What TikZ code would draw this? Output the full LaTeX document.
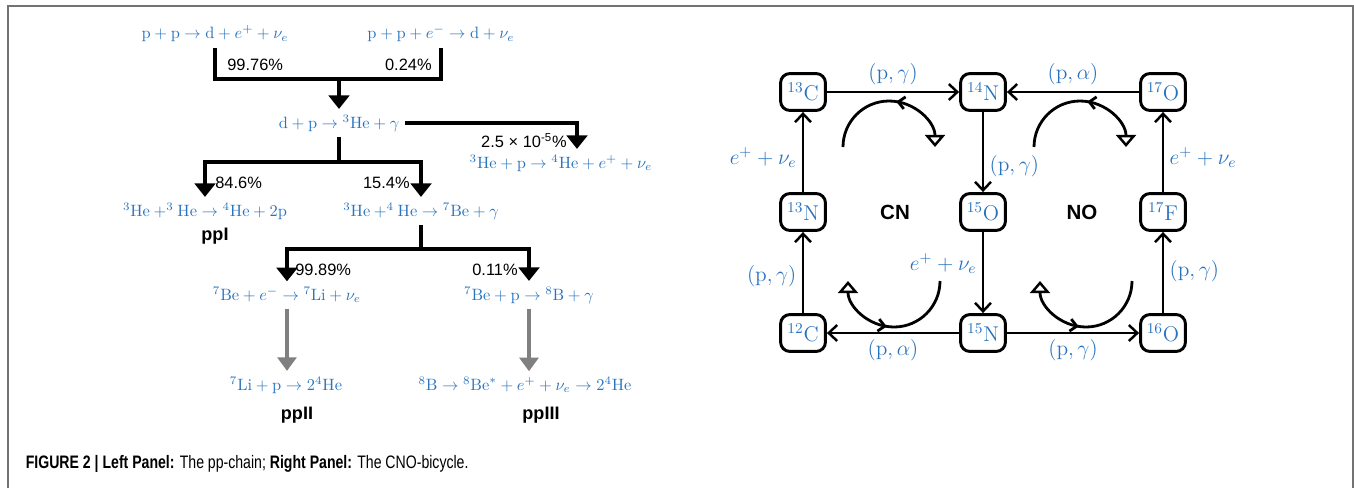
\RequirePackage{fix-cm}
\documentclass[tikz,border=0pt]{standalone}
\usepackage{fontspec}
\setsansfont{Liberation Sans}
\newfontfamily\capfont{Liberation Sans}[FakeStretch=0.78]
\usetikzlibrary{arrows.meta,calc,decorations.markings}
\definecolor{rxnblue}{RGB}{40,115,190}

\begin{document}
\begin{tikzpicture}[x=.214mm,y=-.214mm,
  rxn/.style={text=rxnblue},
  pct/.style={font=\sffamily,inner sep=0pt},
  chain/.style={font=\sffamily\bfseries\fontsize{11}{13}\selectfont},
  bar/.style={line width=2.4pt},
  flow/.style={line width=2.4pt,-{Triangle[width=4.4mm,length=2.9mm]}},
  grayflow/.style={line width=3pt,black!50,-{Triangle[width=4mm,length=2.9mm]}},
  nuc/.style={draw,line width=1.8pt,rounded corners=2mm,minimum width=9.6mm,minimum height=7.9mm,
    inner sep=1pt,text=rxnblue,font=\fontsize{13}{15}\selectfont},
  react/.style={line width=1.5pt,-{Straight Barb[length=1.8mm,width=3.4mm]}},
  lab/.style={text=rxnblue,font=\fontsize{13}{15}\selectfont},
  cyc/.style={line width=1.7pt,{Triangle[open,width=4.3mm,length=2.6mm,line width=1.5pt]}-,
    postaction={decorate},decoration={markings,
      mark=at position .45 with {\arrow{Straight Barb[length=1.4mm,width=2.6mm]}}}}]
  \useasboundingbox (0,0) rectangle (1354,488);
  \draw[line width=.9pt,black!55] (8,488) -- (8,6) -- (1353,6) -- (1353,488);

  % pp-chain
  \node[rxn] (pp) at (215,34) {$\mathrm{p}+\mathrm{p}\rightarrow\mathrm{d}+e^++\nu_e$};
  \node[rxn] (pep) at (441,34) {$\mathrm{p}+\mathrm{p}+e^-\rightarrow\mathrm{d}+\nu_e$};
  \node[rxn] (dp) at (339,123) {$\mathrm{d}+\mathrm{p}\rightarrow{}^3\mathrm{He}+\gamma$};
  \node[rxn] (hep) at (561,163) {$^3\mathrm{He}+\mathrm{p}\rightarrow{}^4\mathrm{He}+e^++\nu_e$};
  \node[rxn] (hh) at (205,211) {$^3\mathrm{He}+^3\mathrm{He}\rightarrow{}^4\mathrm{He}+2\mathrm{p}$};
  \node[rxn] (ha) at (421,211) {$^3\mathrm{He}+^4\mathrm{He}\rightarrow{}^7\mathrm{Be}+\gamma$};
  \node[rxn] (bee) at (287,295) {$^7\mathrm{Be}+e^-\rightarrow{}^7\mathrm{Li}+\nu_e$};
  \node[rxn] (bep) at (529,295) {$^7\mathrm{Be}+\mathrm{p}\rightarrow{}^8\mathrm{B}+\gamma$};
  \node[rxn] (lip) at (286,385) {$^7\mathrm{Li}+\mathrm{p}\rightarrow2{}^4\mathrm{He}$};
  \node[rxn] (bd) at (525,385) {$^8\mathrm{B}\rightarrow{}^8\mathrm{Be}^*+e^++\nu_e\rightarrow2{}^4\mathrm{He}$};

  \coordinate (j1) at (339,79);
  \coordinate (j2) at (339,162);
  \coordinate (j3) at (421,249);
  \draw[bar] (pp.south) |- (j1) -| (pep.south);
  \draw[flow] (j1) -- (j1 |- dp.north);
  \draw[flow] (dp.east) -| ($(hep.north)+(16,0)$);
  \draw[bar] (dp.south) -- (j2);
  \draw[flow] (j2) -| (hh.north);
  \draw[flow] (j2) -| (ha.north);
  \draw[bar] (ha.south) -- (j3);
  \draw[flow] (j3) -| (bee.north);
  \draw[flow] (j3) -| (bep.north);
  \draw[grayflow] (bee.south) -- (bee.south |- lip.north);
  \draw[grayflow] (bep.south) -- (bep.south |- bd.north);

  \node[pct,anchor=west] (p1) at (227,65) {99.76\%};
  \node[pct,anchor=east] (p2) at (432,65) {0.24\%};
  \node[pct,anchor=east] (p3) at (567,141) {2.5 × 10\textsuperscript{-5}\%};
  \node[pct,anchor=west] (p4) at (215,183) {84.6\%};
  \node[pct,anchor=east] (p5) at (410,183) {15.4\%};
  \node[pct,anchor=west] (p6) at (295,270) {99.89\%};
  \node[pct,anchor=east] (p7) at (518,270) {0.11\%};

  \node[chain] (ppI) at (215,236) {ppI};
  \node[chain] (ppII) at (297,415) {ppII};
  \node[chain] (ppIII) at (541,415) {ppIII};

  % CNO-bicycle
  \foreach \n/\x/\y/\m/\e in {c13/803/92/13/C,n14/983/92/14/N,o17/1163/92/17/O,
      n13/803/212/13/N,o15/983/212/15/O,f17/1163/212/17/F,
      c12/803/333/12/C,n15/983/333/15/N,o16/1163/333/16/O}
    \node[nuc] (\n) at (\x,\y) {$^{\m}\mathrm{\e}$};

  \draw[react] (c13) -- node[lab,above] {$(\mathrm{p},\gamma)$} (n14);
  \draw[react] (o17) -- node[lab,above] {$(\mathrm{p},\alpha)$} (n14);
  \draw[react] (n14) -- node[lab,right,pos=.68] {$(\mathrm{p},\gamma)$} (o15);
  \draw[react] (n13) -- node[lab,left,pos=.43] {$e^++\nu_e$} (c13);
  \draw[react] (f17) -- node[lab,right,pos=.43] {$e^++\nu_e$} (o17);
  \draw[react] (c12) -- node[lab,left,pos=.46] {$(\mathrm{p},\gamma)$} (n13);
  \draw[react] (o15) -- node[lab,left,pos=.39] {$e^++\nu_e$} (n15);
  \draw[react] (o16) -- node[lab,right,pos=.52] {$(\mathrm{p},\gamma)$} (f17);
  \draw[react] (n15) -- node[lab,below] {$(\mathrm{p},\alpha)$} (c12);
  \draw[react] (n15) -- node[lab,below] {$(\mathrm{p},\gamma)$} (o16);

  \draw[cyc] (935,147) arc[start angle=0,end angle=-180,radius=46];
  \draw[cyc] (1126,147) arc[start angle=0,end angle=-180,radius=46];
  \draw[cyc] (848,281) arc[start angle=180,end angle=0,radius=46];
  \draw[cyc] (1040,281) arc[start angle=180,end angle=0,radius=46];

  \node[font=\sffamily\bfseries\fontsize{12.5}{15}\selectfont] (cn) at (895,212) {CN};
  \node[font=\sffamily\bfseries\fontsize{12.5}{15}\selectfont] (no) at (1082,212) {NO};

  \node[anchor=west,font=\capfont\fontsize{11}{13}\selectfont] (cap) at (20,464) {\textbf{FIGURE 2 | Left Panel:} The pp-chain; \textbf{Right Panel:} The CNO-bicycle.};
\end{tikzpicture}
\end{document}
